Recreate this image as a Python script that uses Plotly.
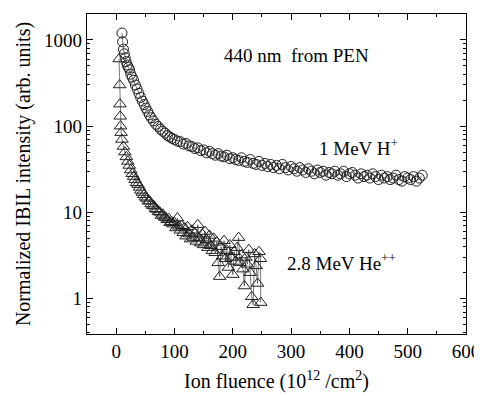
import plotly.graph_objects as go

# 1 MeV H+ (circles)
h_x = [10, 11, 12.5, 14, 15.5, 17, 19, 21, 23, 25, 27.5, 30, 33, 36, 39, 42, 45, 48, 51, 54,
       57, 60, 64, 68, 72, 76, 80, 84, 88, 92, 96, 100,
       105, 110, 115, 120, 125, 130, 135, 140, 145, 150, 155, 160, 165, 170, 175, 180, 185, 190,
       195, 200, 205, 210, 215, 220, 225, 230, 235, 240, 245, 250, 255, 260, 265, 270, 275, 280,
       285, 290, 295, 300, 305, 310, 315, 320, 325, 330, 335, 340, 345, 350, 355, 360, 365, 370,
       375, 380, 385, 390, 395, 400, 405, 410, 415, 420, 425, 430, 435, 440, 445, 450, 455, 460,
       465, 470, 475, 480, 485, 490, 495, 500, 505, 510, 515, 520, 525]
h_y = [1200, 950, 780, 690, 620, 560, 510, 480, 450, 400, 370, 340, 300, 270, 240, 215, 195, 178, 162, 148,
       135, 125, 115, 105, 99, 92, 87, 83, 78, 75, 72, 70,
       67, 66, 62, 63, 59, 58, 55, 56, 52, 53, 49, 51, 48, 46, 48, 45, 44, 46,
       42, 43, 41, 40, 43, 39, 38, 41, 37, 36, 39, 35, 37, 34, 36, 33, 35, 32,
       36, 33, 31, 34, 32, 30, 33, 31, 29, 32, 30, 28, 31, 29, 30, 27, 29, 28,
       30, 27, 28, 30, 26, 28, 29, 27, 25, 28, 26, 27, 25, 28, 26, 24, 27, 25,
       26, 24, 25, 27, 24, 23, 26, 25, 24, 26, 23, 25, 27]

# 2.8 MeV He++ (triangles)
he_x = [5, 6, 6.5, 7, 7.5, 8.5, 10, 12.5, 15, 17.5, 20, 22.5, 25, 27.5, 30, 32.5, 35, 37.5, 40, 42.5,
        45, 47.5, 50, 52.5, 55, 57.5, 60, 62.5, 65, 67.5, 70, 72.5, 75, 77.5, 80, 82.5, 85, 87.5, 90, 92.5,
        95, 97.5, 100, 102.5, 105, 107.5, 110, 112.5, 115, 117.5, 120, 122.5, 125, 127.5, 130, 132.5,
        135, 137.5, 140, 142.5, 145, 147.5, 150, 152.5, 155, 157.5, 160, 162.5, 165, 167.5, 170, 172.5,
        175, 177.5, 180, 182.5, 185, 187.5, 190, 192.5, 195, 197.5, 200, 202.5, 205, 207.5, 210, 212.5,
        215, 217.5, 220, 222.5, 225, 227.5, 230, 232.5, 235, 237.5, 240, 242.5, 245, 247.5, 248]
he_y = [600, 300, 180, 130, 100, 84, 70, 58, 50, 44, 39, 35, 31, 28, 26, 24, 22, 21, 19.5, 18,
        17, 16, 15, 14.5, 13.5, 13.5, 12.5, 12, 11.8, 11, 10.8, 10.2, 10, 9.2, 9.5, 8.8, 8.7, 8.2, 8.5, 7.6,
        7.8, 7.3, 7.6, 6.6, 8.6, 6.9, 6.2, 7.0, 5.8, 6.6, 5.3, 6.8, 5.6, 4.9, 6.2, 5.1,
        5.7, 4.6, 7.2, 5.0, 4.4, 5.6, 4.2, 6.0, 4.8, 3.9, 5.4, 4.1, 3.6, 5.0, 3.4, 4.5,
        2.6, 1.8, 4.0, 3.1, 4.7, 2.9, 3.6, 2.3, 4.2, 3.0, 1.9, 3.5, 2.7, 3.9, 5.1, 2.6,
        3.2, 2.2, 1.4, 3.0, 2.5, 3.7, 2.0, 1.05, 0.85, 3.3, 2.4, 1.5, 3.5, 2.9, 0.9]

x_ticks = [0, 100, 200, 300, 400, 500, 600]
font = "Liberation Serif, Times New Roman, serif"
ink = "#222222"

fig = go.Figure()
fig.add_trace(go.Scatter(
    x=h_x, y=h_y, mode="lines+markers",
    line=dict(color=ink, width=0.6),
    marker=dict(symbol="circle-open", size=10, color=ink, line=dict(width=1, color=ink)),
    showlegend=False))
fig.add_trace(go.Scatter(
    x=he_x, y=he_y, mode="lines+markers",
    line=dict(color=ink, width=0.6),
    marker=dict(symbol="triangle-up-open", size=11, color=ink, line=dict(width=1, color=ink)),
    showlegend=False))

axis_common = dict(
    showline=True, linecolor="black", linewidth=1.3, mirror="allticks",
    ticks="inside", ticklen=6, tickwidth=1, tickcolor="black",
    showgrid=False, zeroline=False, automargin=False,
    tickfont=dict(family=font, size=19, color="black"),
)

fig.update_xaxes(
    range=[-50, 600], tickmode="array", tickvals=x_ticks,
    minor=dict(dtick=50, tick0=0, ticks="inside", ticklen=3, tickcolor="black", showgrid=False),
    title=dict(text="Ion fluence (10<sup>12</sup> /cm<sup>2</sup>)",
               font=dict(family=font, size=20, color="black"), standoff=13),
    **axis_common)
fig.update_yaxes(
    type="log", range=[-0.41, 3.30], dtick=1, tickformat="d",
    minor=dict(dtick="D1", ticks="inside", ticklen=3, tickcolor="black", showgrid=False),
    title=dict(text="Normalized IBIL intensity (arb. units)",
               font=dict(family=font, size=20, color="black"), standoff=8),
    **axis_common)

ann_font = dict(family=font, size=19, color="black")
fig.add_annotation(x=310, y=2.814, xref="x", yref="y", text="440 nm&nbsp; from PEN",
                   showarrow=False, font=ann_font)
fig.add_annotation(x=415, y=1.756, xref="x", yref="y", text="1 MeV H<sup>+</sup>",
                   showarrow=False, font=ann_font)
fig.add_annotation(x=387, y=0.43, xref="x", yref="y", text="2.8 MeV He<sup>++</sup>",
                   showarrow=False, font=ann_font)

# the page body adds an 8px offset, so the figure is 8px smaller and margins compensate
fig.update_layout(
    width=474, height=388,
    margin=dict(l=79, r=16, t=6, b=62),
    paper_bgcolor="white", plot_bgcolor="white",
    font=dict(family=font, color="black"),
)

fig.write_html("out.html")
